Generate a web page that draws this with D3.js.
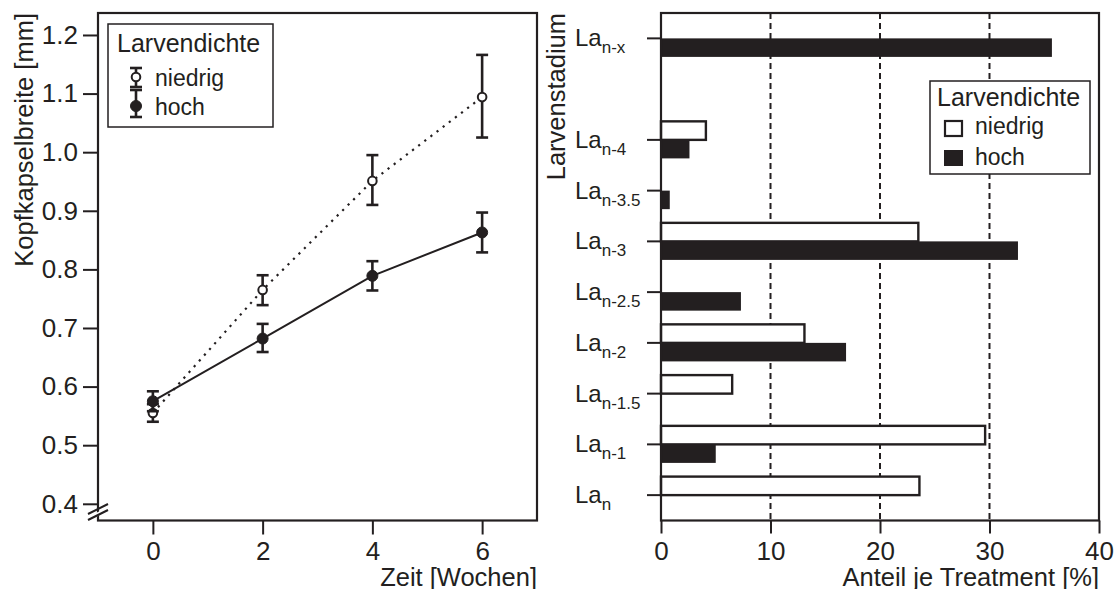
<!DOCTYPE html>
<html>
<head>
<meta charset="utf-8">
<script src="https://cdn.jsdelivr.net/npm/d3@7/dist/d3.min.js"></script>
<style>
  body { margin: 0; background: #fff; }
  svg text { font-family: "Liberation Sans", Arial, sans-serif; fill: #231f20; }
</style>
</head>
<body>
<svg id="chart" width="1117" height="589"></svg>
<script>
// left panel: Kopfkapselbreite over time
var weeks = [0, 2, 4, 6];
var niedrigMean = [0.555, 0.765, 0.951, 1.094];
var niedrigLo   = [0.540, 0.739, 0.910, 1.025];
var niedrigHi   = [0.570, 0.790, 0.995, 1.166];
var hochMean = [0.575, 0.682, 0.789, 0.863];
var hochLo   = [0.558, 0.659, 0.764, 0.829];
var hochHi   = [0.592, 0.707, 0.814, 0.897];
var yTicksL = [0.4, 0.5, 0.6, 0.7, 0.8, 0.9, 1.0, 1.1, 1.2];
var xTicksL = [0, 2, 4, 6];

// right panel: share per larval stage (bottom to top)
var stages     = ["n", "n-1", "n-1.5", "n-2", "n-2.5", "n-3", "n-3.5", "n-4", "n-x"];
var niedrigPct = [23.6, 29.6, 6.5, 13.1, 0, 23.5, 0, 4.1, 0];
var hochPct    = [0, 5.0, 0, 16.9, 7.3, 32.6, 0.8, 2.6, 35.7];
var xTicksR = [0, 10, 20, 30, 40];
var gridR = [10, 20, 30];

var ink = "#231f20";
var svg = d3.select("#chart");

// ---------- left panel ----------
var xL = d3.scaleLinear().domain([-1, 7]).range([98, 537]);
var yL = d3.scaleLinear().domain([0.3715, 1.2375]).range([520.5, 13]);

var gL = svg.append("g");

var axL = gL.append("g").attr("transform", "translate(98,0)")
	.call(d3.axisLeft(yL).tickValues(yTicksL).tickFormat(d3.format(".1f")).tickSize(15).tickPadding(5));
var axB = gL.append("g").attr("transform", "translate(0,520.5)")
	.call(d3.axisBottom(xL).tickValues(xTicksL).tickSize(14).tickPadding(5));
[axL, axB].forEach(function(a) {
	a.select(".domain").remove();
	a.selectAll("line").attr("stroke", ink).attr("stroke-width", 2);
	a.selectAll("text").style("font-size", "26px").attr("fill", ink);
});
axB.selectAll("text").attr("dy", "0.8em");

gL.append("rect")
	.attr("x", xL.range()[0]).attr("y", yL.range()[1])
	.attr("width", xL.range()[1] - xL.range()[0])
	.attr("height", yL.range()[0] - yL.range()[1])
	.attr("fill", "none").attr("stroke", ink).attr("stroke-width", 2.2);

// axis break
gL.append("path").attr("d", "M88,517 L108,507 L108,511 L88,521 Z").attr("fill", "#fff");
gL.append("path").attr("d", "M88,520 L108,510 M88,514 L108,504")
	.attr("stroke", ink).attr("stroke-width", 2).attr("fill", "none");

function series(mean, lo, hi) {
	return weeks.map(function(w, i) { return { w: w, m: mean[i], lo: lo[i], hi: hi[i] }; });
}
var sN = series(niedrigMean, niedrigLo, niedrigHi);
var sH = series(hochMean, hochLo, hochHi);

var line = d3.line().x(function(d) { return xL(d.w); }).y(function(d) { return yL(d.m); });

gL.append("path").datum(sN).attr("d", line)
	.attr("fill", "none").attr("stroke", ink).attr("stroke-width", 2.2).attr("stroke-dasharray", "2.2,5.5");
gL.append("path").datum(sH).attr("d", line)
	.attr("fill", "none").attr("stroke", ink).attr("stroke-width", 2);

function errorBars(data, filled) {
	var g = gL.append("g");
	var eb = g.selectAll("g").data(data).enter().append("g");
	eb.append("line")
		.attr("x1", function(d) { return xL(d.w); }).attr("x2", function(d) { return xL(d.w); })
		.attr("y1", function(d) { return yL(d.lo); }).attr("y2", function(d) { return yL(d.hi); });
	eb.append("line")
		.attr("x1", function(d) { return xL(d.w) - 6; }).attr("x2", function(d) { return xL(d.w) + 6; })
		.attr("y1", function(d) { return yL(d.lo); }).attr("y2", function(d) { return yL(d.lo); });
	eb.append("line")
		.attr("x1", function(d) { return xL(d.w) - 6; }).attr("x2", function(d) { return xL(d.w) + 6; })
		.attr("y1", function(d) { return yL(d.hi); }).attr("y2", function(d) { return yL(d.hi); });
	eb.selectAll("line").attr("stroke", ink).attr("stroke-width", 2.6);
	eb.append("circle")
		.attr("cx", function(d) { return xL(d.w); })
		.attr("cy", function(d) { return yL(d.m); })
		.attr("r", filled ? 5.5 : 4.3)
		.attr("fill", filled ? ink : "#fff")
		.attr("stroke", ink).attr("stroke-width", filled ? 1 : 2);
}
errorBars(sN, false);
errorBars(sH, true);

// axis titles
gL.append("text").attr("transform", "translate(33,13) rotate(-90)")
	.attr("text-anchor", "end").style("font-size", "25.5px").text("Kopfkapselbreite [mm]");
gL.append("text").attr("x", 537).attr("y", 586)
	.attr("text-anchor", "end").style("font-size", "25.5px").text("Zeit [Wochen]");

// left legend
var lg = gL.append("g");
lg.append("rect").attr("x", 108).attr("y", 24).attr("width", 165).attr("height", 103)
	.attr("fill", "#fff").attr("stroke", ink).attr("stroke-width", 1.5);
lg.append("text").attr("x", 117).attr("y", 52).style("font-size", "25px").text("Larvendichte");
[{ lab: "niedrig", c: 77, t: 68, b: 87, filled: false, ty: 86 },
 { lab: "hoch", c: 106, t: 90, b: 117, filled: true, ty: 115 }].forEach(function(it) {
	lg.append("line").attr("x1", 136).attr("x2", 136).attr("y1", it.t).attr("y2", it.b);
	lg.append("line").attr("x1", 130).attr("x2", 142).attr("y1", it.t).attr("y2", it.t);
	lg.append("line").attr("x1", 130).attr("x2", 142).attr("y1", it.b).attr("y2", it.b);
	lg.selectAll("line").attr("stroke", ink).attr("stroke-width", 2.6);
	lg.append("circle").attr("cx", 136).attr("cy", it.c).attr("r", it.filled ? 5.5 : 4.3)
		.attr("fill", it.filled ? ink : "#fff").attr("stroke", ink).attr("stroke-width", it.filled ? 1 : 2);
	lg.append("text").attr("x", 155).attr("y", it.ty).style("font-size", "23px").text(it.lab);
});

// ---------- right panel ----------
var xR = d3.scaleLinear().domain([0, 40]).range([661, 1099]);
var slots = stages.slice(0, 8).concat(["gap"], stages.slice(8));
var yR = d3.scalePoint().domain(slots).range([520.5, 13]).padding(0.5);
var barH = yR.step() * 0.365;

var gR = svg.append("g");

gR.selectAll("line.grid").data(gridR).enter().append("line")
	.attr("class", "grid")
	.attr("x1", function(d) { return xR(d); }).attr("x2", function(d) { return xR(d); })
	.attr("y1", yR.range()[1]).attr("y2", yR.range()[0])
	.attr("stroke", ink).attr("stroke-width", 2).attr("stroke-dasharray", "6,4");

var axBR = gR.append("g").attr("transform", "translate(0,520.5)")
	.call(d3.axisBottom(xR).tickValues(xTicksR).tickSize(13).tickPadding(6));
axBR.select(".domain").remove();
axBR.selectAll("line").attr("stroke", ink).attr("stroke-width", 2);
axBR.selectAll("text").style("font-size", "26px").attr("fill", ink).attr("dy", "0.78em");

var bars = stages.map(function(s, i) { return { s: s, lo: niedrigPct[i], hi: hochPct[i] }; });

gR.selectAll("rect.niedrig").data(bars.filter(function(d) { return d.lo > 0; })).enter().append("rect")
	.attr("class", "niedrig")
	.attr("x", xR(0))
	.attr("y", function(d) { return yR(d.s) - barH; })
	.attr("width", function(d) { return xR(d.lo) - xR(0); })
	.attr("height", barH)
	.attr("fill", "#fff").attr("stroke", ink).attr("stroke-width", 2.4);

gR.selectAll("rect.hoch").data(bars.filter(function(d) { return d.hi > 0; })).enter().append("rect")
	.attr("class", "hoch")
	.attr("x", xR(0))
	.attr("y", function(d) { return yR(d.s); })
	.attr("width", function(d) { return xR(d.hi) - xR(0); })
	.attr("height", barH)
	.attr("fill", ink);

gR.append("rect")
	.attr("x", xR.range()[0]).attr("y", yR.range()[1])
	.attr("width", xR.range()[1] - xR.range()[0])
	.attr("height", yR.range()[0] - yR.range()[1])
	.attr("fill", "none").attr("stroke", ink).attr("stroke-width", 2.2);

// stage ticks and labels
gR.selectAll("line.stage").data(stages).enter().append("line")
	.attr("class", "stage")
	.attr("x1", 647).attr("x2", xR(0))
	.attr("y1", function(d) { return yR(d); }).attr("y2", function(d) { return yR(d); })
	.attr("stroke", ink).attr("stroke-width", 2);

var lab = gR.selectAll("text.stage").data(stages).enter().append("text")
	.attr("class", "stage")
	.attr("x", 575)
	.attr("y", function(d) { return yR(d) + 8; })
	.style("font-size", "24px");
lab.append("tspan").text("La");
lab.append("tspan").attr("dy", 7).style("font-size", "17px").text(function(d) { return d; });

gR.append("text").attr("transform", "translate(565,13) rotate(-90)")
	.attr("text-anchor", "end").style("font-size", "25.5px").text("Larvenstadium");
gR.append("text").attr("x", 1099).attr("y", 586)
	.attr("text-anchor", "end").style("font-size", "25.5px").text("Anteil je Treatment [%]");

// right legend
var rg = gR.append("g");
rg.append("rect").attr("x", 930).attr("y", 81).attr("width", 160).attr("height", 93)
	.attr("fill", "#fff").attr("stroke", ink).attr("stroke-width", 1.5);
rg.append("text").attr("x", 937).attr("y", 106).style("font-size", "25px").text("Larvendichte");
rg.append("rect").attr("x", 945).attr("y", 121).attr("width", 17).attr("height", 15)
	.attr("fill", "#fff").attr("stroke", ink).attr("stroke-width", 2.2);
rg.append("text").attr("x", 975).attr("y", 134).style("font-size", "23px").text("niedrig");
rg.append("rect").attr("x", 944).attr("y", 150).attr("width", 19).attr("height", 16).attr("fill", ink);
rg.append("text").attr("x", 975).attr("y", 165).style("font-size", "23px").text("hoch");
</script>
</body>
</html>
